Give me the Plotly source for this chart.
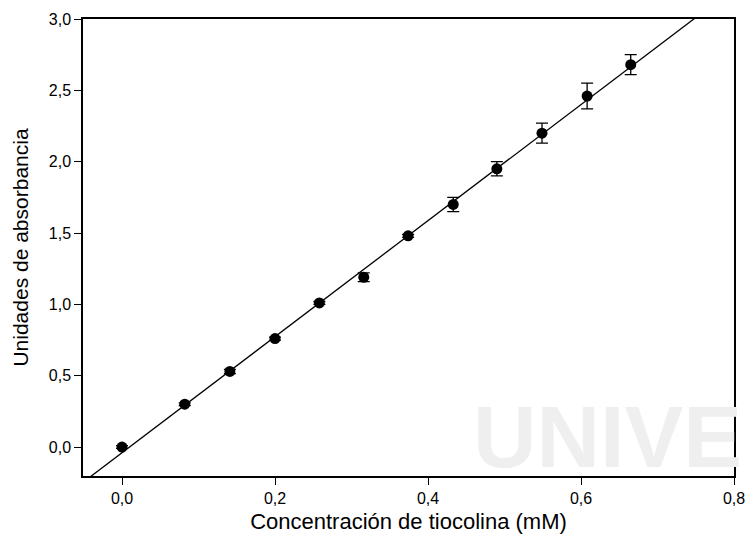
import numpy as np
import plotly.graph_objects as go

# Thiocholine calibration: concentration (mM) vs absorbance
conc = [0.0, 0.082, 0.141, 0.200, 0.258, 0.316, 0.374, 0.433, 0.490, 0.549, 0.608, 0.665]
absorb = [0.00, 0.30, 0.53, 0.76, 1.01, 1.19, 1.48, 1.70, 1.95, 2.20, 2.46, 2.68]
err = [0.01, 0.01, 0.015, 0.01, 0.01, 0.03, 0.01, 0.05, 0.05, 0.07, 0.09, 0.07]

x_ticks = [0.0, 0.2, 0.4, 0.6, 0.8]
y_ticks = [0.0, 0.5, 1.0, 1.5, 2.0, 2.5, 3.0]

# Linear regression line across the plotted range
slope, intercept = np.polyfit(conc, absorb, 1)
x_line = np.linspace(-0.05, 0.8, 200)
y_line = slope * x_line + intercept

FONT = "Liberation Sans, Arial"

fig = go.Figure()
fig.add_trace(go.Scatter(
    x=x_line, y=y_line, mode="lines",
    line=dict(color="black", width=1.3), showlegend=False, hoverinfo="skip",
))
fig.add_trace(go.Scatter(
    x=conc, y=absorb, mode="markers",
    marker=dict(color="black", size=11),
    error_y=dict(type="data", array=err, color="black", thickness=1.3, width=6),
    showlegend=False,
))

axis_common = dict(
    showgrid=False, zeroline=False, showline=True, linecolor="black", linewidth=1.5,
    mirror=True, ticks="outside", ticklen=7, tickwidth=1.3, tickcolor="black",
    tickfont=dict(family=FONT, size=16, color="black"),
    tickformat=".1f",
)

fig.update_layout(
    width=746, height=537,
    margin=dict(l=83, r=12, t=19, b=61, autoexpand=False),
    paper_bgcolor="white", plot_bgcolor="white",
    separators=",.",
    xaxis=dict(range=[-0.051, 0.8], tickvals=x_ticks,
               title=dict(text="Concentración de tiocolina (mM)",
                          font=dict(family=FONT, size=22, color="black"),
                          standoff=8),
               **axis_common),
    yaxis=dict(range=[-0.203, 3.0], tickvals=y_ticks,
               title=dict(text="Unidades de absorbancia",
                          font=dict(family=FONT, size=21, color="black"),
                          standoff=14),
               **axis_common),
    annotations=[dict(
        text="<b>UNIVE</b>", xref="paper", yref="paper", x=1.015, y=-0.026,
        xanchor="right", yanchor="bottom", showarrow=False,
        font=dict(family="Liberation Sans Narrow, Liberation Sans", size=88, color="#efefef"),
    )],
)

fig.write_html("out.html")
